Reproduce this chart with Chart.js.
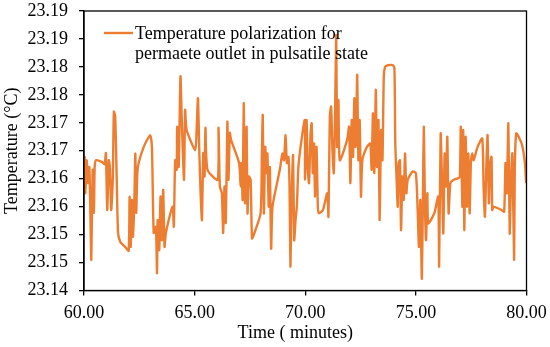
<!DOCTYPE html>
<html>
<head>
<meta charset="utf-8">
<script src="https://cdn.jsdelivr.net/npm/chart.js@4.4.1/dist/chart.umd.min.js"></script>
<style>
html,body{margin:0;padding:0;background:#fff;}
#wrap{width:550px;height:347px;position:relative;}
</style>
</head>
<body>
<div id="wrap"><canvas id="c" width="550" height="347"></canvas></div>
<script>
// Time (minutes)
const time = [
60.00,60.03,60.06,60.12,60.18,60.24,60.28,60.33,60.39,60.45,60.48,60.54,60.81,60.93,60.99,61.05,61.12,61.17,61.23,61.30,
61.35,61.41,61.48,61.54,61.64,61.86,62.02,62.06,62.11,62.17,62.21,62.27,62.32,62.36,62.41,62.47,62.70,62.99,63.07,63.15,
63.25,63.30,63.33,63.40,63.46,63.52,63.58,63.64,63.70,64.00,64.06,64.12,64.19,64.21,64.28,64.36,64.42,64.52,64.57,64.64,
65.03,65.09,65.15,65.21,65.27,65.33,65.39,65.45,65.49,65.58,66.04,66.08,66.14,66.23,66.29,66.35,66.41,66.48,66.53,66.59,
66.65,67.01,67.08,67.12,67.17,67.22,67.28,67.35,67.39,67.45,67.53,67.59,67.64,67.98,68.04,68.08,68.13,68.19,68.25,68.29,
68.35,68.40,68.46,68.52,68.85,68.97,69.04,69.11,69.17,69.24,69.29,69.33,69.39,69.45,69.50,69.56,69.62,69.69,69.83,69.98,
69.99,70.06,70.11,70.17,70.24,70.29,70.34,70.40,70.44,70.51,70.57,70.62,70.80,70.99,71.05,71.11,71.17,71.23,71.29,71.35,
71.40,71.44,71.50,71.56,71.89,71.98,72.04,72.10,72.16,72.22,72.28,72.35,72.40,72.46,72.52,72.58,72.79,72.94,73.00,73.06,
73.12,73.19,73.24,73.31,73.36,73.43,73.49,73.55,73.61,73.73,73.95,74.03,74.07,74.13,74.18,74.22,74.28,74.33,74.39,74.45,
74.51,74.57,74.63,74.85,75.00,75.08,75.14,75.20,75.27,75.32,75.36,75.41,75.46,75.52,75.56,75.83,76.01,76.05,76.12,76.18,
76.24,76.30,76.36,76.42,76.48,76.56,76.71,76.92,76.99,77.03,77.10,77.14,77.19,77.25,77.31,77.37,77.43,77.49,77.55,77.61,
77.79,78.00,78.06,78.12,78.18,78.24,78.30,78.36,78.42,78.45,78.51,78.87,78.99,79.05,79.11,79.18,79.24,79.30,79.36,79.44,
79.47,79.54,79.78,79.93,79.98
];
// Temperature (°C)
const temperature = [
23.1600,23.1639,23.1574,23.1633,23.1592,23.1621,23.1559,23.1455,23.1616,23.1539,23.1619,23.1633,23.1630,23.1626,23.1646,23.1544,23.1633,23.1621,23.1544,23.1598,
23.1720,23.1711,23.1598,23.1503,23.1487,23.1478,23.1471,23.1568,23.1478,23.1562,23.1496,23.1550,23.1645,23.1539,23.1610,23.1628,23.1657,23.1678,23.1657,23.1503,
23.1514,23.1431,23.1526,23.1472,23.1568,23.1490,23.1580,23.1478,23.1503,23.1550,23.1514,23.1633,23.1616,23.1693,23.1621,23.1783,23.1705,23.1598,23.1723,23.1687,
23.1651,23.1687,23.1744,23.1651,23.1574,23.1526,23.1646,23.1604,23.1691,23.1616,23.1598,23.1691,23.1586,23.1574,23.1503,23.1586,23.1521,23.1702,23.1598,23.1682,
23.1669,23.1628,23.1586,23.1628,23.1562,23.1735,23.1556,23.1693,23.1538,23.1604,23.1598,23.1493,23.1496,23.1538,23.1645,23.1714,23.1538,23.1657,23.1610,23.1645,
23.1550,23.1621,23.1475,23.1550,23.1616,23.1645,23.1633,23.1678,23.1628,23.1639,23.1586,23.1443,23.1574,23.1642,23.1490,23.1526,23.1550,23.1621,23.1669,23.1705,
23.1598,23.1705,23.1621,23.1592,23.1681,23.1699,23.1610,23.1663,23.1568,23.1657,23.1550,23.1538,23.1544,23.1574,23.1532,23.1711,23.1729,23.1651,23.1610,23.1723,
23.1857,23.1657,23.1741,23.1633,23.1669,23.1693,23.1592,23.1705,23.1639,23.1744,23.1657,23.1786,23.1633,23.1705,23.1568,23.1633,23.1657,23.1663,23.1616,23.1717,
23.1610,23.1759,23.1621,23.1705,23.1526,23.1687,23.1633,23.1783,23.1800,23.1803,23.1803,23.1798,23.1663,23.1598,23.1550,23.1628,23.1633,23.1508,23.1604,23.1562,
23.1645,23.1574,23.1598,23.1613,23.1610,23.1544,23.1478,23.1562,23.1421,23.1574,23.1693,23.1550,23.1490,23.1574,23.1520,23.1538,23.1568,23.1443,23.1681,23.1598,
23.1502,23.1645,23.1586,23.1675,23.1538,23.1592,23.1598,23.1601,23.1604,23.1693,23.1550,23.1687,23.1508,23.1675,23.1550,23.1645,23.1538,23.1633,23.1645,23.1633,
23.1657,23.1672,23.1586,23.1532,23.1616,23.1678,23.1556,23.1628,23.1639,23.1544,23.1550,23.1544,23.1541,23.1628,23.1574,23.1699,23.1502,23.1598,23.1645,23.1455,
23.1616,23.1681,23.1663,23.1628,23.1592
];
const yTickValues = [23.14,23.145,23.15,23.155,23.16,23.165,23.17,23.175,23.18,23.185,23.19];
const yTickLabels = ['23.14','23.15','23.15','23.16','23.16','23.17','23.17','23.18','23.18','23.19','23.19'];
const xTickValues = [60,65,70,75,80];
const xTickLabels = ['60.00','65.00','70.00','75.00','80.00'];
const seriesLabel = ['Temperature polarization for','permaete outlet in pulsatile state'];
const xTitle = 'Time ( minutes)';
const yTitle = 'Temperature (°C)';

const FONT = "'Liberation Serif','Times New Roman',serif";
const LINE_COLOR = '#ED7D31';

const points = time.map((t,i)=>({x:t,y:temperature[i]}));

const framePlugin = {
  id:'frame',
  afterDraw(chart){
    const {ctx, chartArea:a} = chart;
    ctx.save();
    ctx.strokeStyle = '#000';
    ctx.lineWidth = 1.3;
    ctx.strokeRect(a.left, a.top, a.right-a.left, a.bottom-a.top);
    // legend inside plot
    const ds = chart.data.datasets[0];
    const lines = Array.isArray(ds.label) ? ds.label : [ds.label];
    const lx = a.left + 20, ly = a.top + 22;
    ctx.strokeStyle = ds.borderColor;
    ctx.lineWidth = 2.4;
    ctx.beginPath(); ctx.moveTo(lx, ly); ctx.lineTo(lx+29, ly); ctx.stroke();
    ctx.fillStyle = '#000';
    ctx.font = "18px " + FONT;
    ctx.textBaseline = 'middle';
    ctx.textAlign = 'left';
    lines.forEach((s,i)=>{
      ctx.fillText(s, lx+31, ly + 1 + i*20);
    });
    // x axis title (slightly left of centre, as in the original)
    ctx.textAlign = 'center';
    ctx.fillText(xTitle, (a.left + a.right)/2 - 10, 333);
    ctx.restore();
  }
};

new Chart(document.getElementById('c'), {
  type:'line',
  data:{datasets:[{
    label: seriesLabel,
    data: points,
    borderColor: LINE_COLOR,
    backgroundColor: LINE_COLOR,
    borderWidth: 2.4,
    pointRadius: 0,
    tension: 0.2,
    fill:false
  }]},
  options:{
    responsive:false,
    animation:false,
    layout:{padding:{left:0,top:11,right:23.5,bottom:0}},
    plugins:{legend:{display:false}, tooltip:{enabled:false}},
    scales:{
      x:{
        type:'linear', min:60, max:80,
        afterBuildTicks(s){ s.ticks = xTickValues.map(v=>({value:v})); },
        afterFit(s){ s.height = 56.5; s.paddingLeft = 0; s.paddingRight = 0; },
        ticks:{ callback:(v,i)=>xTickLabels[i], color:'#000', font:{family:FONT,size:18}, padding:7, maxRotation:0, autoSkip:false },
        grid:{ drawOnChartArea:false, drawTicks:true, tickLength:5, color:'#000', lineWidth:1.3 },
        border:{ display:true, color:'#000', width:1.3 },
        title:{ display:false }
      },
      y:{
        type:'linear', min:23.14, max:23.19,
        afterBuildTicks(s){ s.ticks = yTickValues.map(v=>({value:v})); },
        afterFit(s){ s.width = 84; s.paddingTop = 0; s.paddingBottom = 0; },
        ticks:{ callback:(v,i)=>yTickLabels[i], color:'#000', font:{family:FONT,size:18}, padding:11, autoSkip:false },
        grid:{ drawOnChartArea:false, drawTicks:true, tickLength:5, color:'#000', lineWidth:1.3 },
        border:{ display:true, color:'#000', width:1.3 },
        title:{ display:true, text:yTitle, color:'#000', font:{family:FONT,size:18}, padding:{top:1,bottom:0} }
      }
    }
  },
  plugins:[framePlugin]
});
</script>
</body>
</html>
